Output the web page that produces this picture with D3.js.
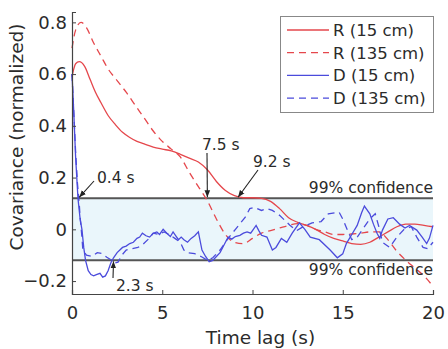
<!DOCTYPE html>
<html>
<head>
<meta charset="utf-8">
<script src="https://cdn.jsdelivr.net/npm/d3@7"></script>
<style>
  html, body { margin: 0; padding: 0; background: #fff; }
  svg { display: block; font-family: "DejaVu Sans", Verdana, sans-serif; }
</style>
</head>
<body>
<svg id="chart" width="448" height="349"></svg>
<script>
// Time lags (s) and normalized covariance for each series
const r15T = [0, 0.1, 0.2, 0.4, 0.7, 1.0, 1.3, 1.6, 2.0, 2.4, 2.8, 3.2, 3.6, 4.0, 4.5, 5.0, 5.5, 6.0, 6.5, 7.0, 7.5, 8.0, 8.5, 9.0, 9.5, 10.0, 10.5, 11.0, 11.5, 12.0, 12.5, 13.0, 13.5, 14.0, 14.5, 15.0, 15.5, 16.0, 16.5, 17.0, 17.5, 18.0, 18.5, 19.0, 19.5, 20];
const r15V = [0.59, 0.62, 0.64, 0.648, 0.63, 0.58, 0.53, 0.49, 0.44, 0.405, 0.375, 0.355, 0.34, 0.33, 0.318, 0.31, 0.303, 0.29, 0.275, 0.26, 0.23, 0.185, 0.15, 0.13, 0.122, 0.122, 0.12, 0.108, 0.08, 0.045, 0.027, 0.015, 0.0, -0.02, -0.035, -0.045, -0.055, -0.058, -0.05, -0.03, -0.01, 0.01, 0.02, 0.02, 0.015, 0.01];

const r135T = [0, 0.2, 0.5, 0.8, 1.2, 1.6, 2.0, 2.5, 3.0, 3.5, 4.0, 4.5, 5.0, 5.5, 6.0, 6.5, 7.0, 7.5, 8.0, 8.5, 9.0, 9.5, 10.0, 10.5, 11.0, 11.5, 12.0, 12.5, 13.0, 13.5, 14.0, 14.5, 15.0, 15.5, 16.0, 16.5, 17.0, 17.5, 18.0, 18.5, 19.0, 19.5, 20];
const r135V = [0.70, 0.77, 0.80, 0.78, 0.72, 0.67, 0.62, 0.575, 0.53, 0.48, 0.43, 0.38, 0.34, 0.31, 0.28, 0.22, 0.165, 0.11, 0.04, -0.02, -0.05, -0.055, -0.035, -0.015, -0.005, 0.005, 0.015, 0.022, 0.015, 0.0, -0.01, -0.02, -0.02, -0.018, -0.015, -0.01, -0.01, -0.04, -0.085, -0.12, -0.15, -0.18, -0.22];

const d15T = [0, 0.1, 0.2, 0.33, 0.45, 0.55, 0.65, 0.75, 0.9, 1.05, 1.2, 1.35, 1.55, 1.7, 1.85, 2.0, 2.15, 2.3, 2.5, 2.8, 3.0, 3.2, 3.4, 3.6, 3.75, 3.9, 4.1, 4.3, 4.5, 4.7, 4.85, 5.05, 5.25, 5.45, 5.6, 5.75, 5.9, 6.05, 6.2, 6.4, 6.6, 6.8, 7.0, 7.2, 7.4, 7.6, 7.8, 8.0, 8.2, 8.35, 8.5, 8.65, 8.85, 9.05, 9.3, 9.5, 9.7, 9.9, 10.2, 10.35, 10.5, 10.8, 11.1, 11.3, 11.6, 11.9, 12.2, 12.6, 12.9, 13.2, 13.7, 14.3, 14.7, 15.0, 15.2, 15.5, 15.8, 16.05, 16.2, 16.5, 16.7, 16.9, 17.05, 17.2, 17.5, 17.8, 18.15, 18.45, 18.7, 19.1, 19.4, 19.65, 19.8, 20];
const d15V = [0.6, 0.45, 0.28, 0.12, 0.04, 0.0, -0.07, -0.12, -0.16, -0.175, -0.18, -0.175, -0.17, -0.185, -0.18, -0.16, -0.13, -0.11, -0.09, -0.07, -0.065, -0.055, -0.05, -0.035, -0.03, -0.015, -0.025, -0.03, -0.015, -0.01, -0.02, 0.0, -0.015, -0.028, -0.01, -0.025, -0.04, -0.03, -0.04, -0.05, -0.035, -0.025, -0.01, -0.08, -0.105, -0.125, -0.12, -0.105, -0.09, -0.07, -0.05, -0.03, -0.038, -0.028, -0.023, -0.015, -0.01, -0.015, 0.015, -0.005, -0.023, -0.03, -0.08, -0.07, -0.035, -0.05, -0.015, 0.025, 0.0, -0.03, -0.04, -0.08, -0.11, -0.095, -0.055, -0.02, 0.015, 0.065, 0.09, 0.06, 0.02, -0.015, -0.035, -0.003, 0.04, 0.045, 0.02, 0.005, 0.015, -0.003, -0.03, -0.055, -0.035, 0.015];

const d135T = [0, 0.1, 0.2, 0.3, 0.4, 0.45, 0.55, 0.6, 0.8, 1.1, 1.4, 1.65, 1.93, 2.2, 2.4, 2.55, 2.76, 3.0, 3.3, 3.65, 3.9, 4.2, 4.5, 4.8, 5.1, 5.4, 5.7, 6.0, 6.2, 6.35, 6.8, 7.2, 7.5, 7.8, 8.2, 8.65, 9.1, 9.6, 9.85, 10.1, 10.5, 10.8, 11.1, 11.5, 12.07, 12.45, 12.8, 13.3, 13.8, 14.2, 14.8, 15.0, 15.3, 15.5, 15.8, 16.1, 16.5, 16.8, 17.0, 17.2, 17.6, 18.0, 18.4, 18.8, 19.1, 19.45, 19.7, 20];
const d135V = [0.6, 0.45, 0.3, 0.18, 0.1, 0.047, -0.03, -0.08, -0.1, -0.105, -0.09, -0.093, -0.108, -0.12, -0.13, -0.127, -0.1, -0.08, -0.075, -0.07, -0.06, -0.04, -0.015, -0.02, -0.01, -0.02, -0.035, -0.05, -0.08, -0.09, -0.094, -0.107, -0.12, -0.11, -0.08, -0.035, 0.004, 0.047, 0.08, 0.085, 0.073, 0.08, 0.073, 0.054, 0.016, -0.005, 0.01, 0.025, 0.03, 0.06, 0.066, 0.04, -0.01, -0.04, -0.03, 0.0, 0.04, 0.06, 0.01, -0.05, -0.07, -0.03, 0.0, 0.01, -0.03, -0.07, -0.075, -0.05];

const xTicks = [0, 5, 10, 15, 20];
const yTicks = [-0.2, 0, 0.2, 0.4, 0.6, 0.8];
const confidence = 0.12;
const seriesNames = ["R (15 cm)", "R (135 cm)", "D (15 cm)", "D (135 cm)"];
// Annotated lag times (s) where curves leave the confidence band
const markTimes = [0.4, 2.3, 7.5, 9.2];

const RED = "#e5474c", BLUE = "#4b4bdc", TXT = "#2b2b2b";

const svg = d3.select("#chart");
const x = d3.scaleLinear().domain([0, 20]).range([72, 433]);
const y = d3.scaleLinear().domain([-0.25, 0.84]).range([294, 12]);

const zip = (ts, vs) => ts.map((t, i) => [t, vs[i]]);
const series = [
  { name: seriesNames[0], data: zip(r15T, r15V), color: RED, dash: null, curve: d3.curveMonotoneX },
  { name: seriesNames[1], data: zip(r135T, r135V), color: RED, dash: "7,5", curve: d3.curveMonotoneX },
  { name: seriesNames[2], data: zip(d15T, d15V), color: BLUE, dash: null, curve: d3.curveLinear },
  { name: seriesNames[3], data: zip(d135T, d135V), color: BLUE, dash: "7,5", curve: d3.curveLinear }
];

// Confidence band
svg.append("rect")
  .attr("x", x(0)).attr("width", x(20) - x(0))
  .attr("y", y(confidence)).attr("height", y(-confidence) - y(confidence))
  .attr("fill", "#eaf6fb");
[confidence, -confidence].forEach(c => {
  svg.append("line")
    .attr("x1", x(0)).attr("x2", x(20))
    .attr("y1", y(c)).attr("y2", y(c))
    .attr("stroke", "#555").attr("stroke-width", 2);
});

// Curves
series.forEach(s => {
  svg.append("path")
    .datum(s.data)
    .attr("fill", "none")
    .attr("stroke", s.color)
    .attr("stroke-width", 1.3)
    .attr("stroke-dasharray", s.dash)
    .attr("d", d3.line().x(d => x(d[0])).y(d => y(d[1])).curve(s.curve));
});

// Axes
const xAxis = d3.axisBottom(x).tickValues(xTicks).tickSize(-4).tickPadding(12).tickFormat(d3.format("d"));
const gx = svg.append("g").attr("transform", `translate(0,${y(-0.25)})`).call(xAxis);
const yAxis = d3.axisLeft(y).tickValues(yTicks).tickSize(-4).tickPadding(5).tickFormat(d => d === 0 ? "0" : d3.format(".1f")(d));
const gy = svg.append("g").attr("transform", `translate(${x(0)},0)`).call(yAxis);
[gx, gy].forEach(g => {
  g.select(".domain").attr("stroke", "#444").attr("stroke-width", 1.2);
  g.selectAll(".tick line").attr("stroke", "#444");
  g.selectAll("text").attr("fill", TXT).attr("font-size", 18).attr("font-family", "DejaVu Sans, sans-serif");
});

svg.append("text")
  .attr("x", (x(0) + x(20)) / 2 + 8).attr("y", 344)
  .attr("text-anchor", "middle").attr("font-size", 18.5).attr("fill", TXT)
  .text("Time lag (s)");
svg.append("text")
  .attr("transform", `translate(23,${137}) rotate(-90)`)
  .attr("text-anchor", "middle").attr("font-size", 18.5).attr("fill", TXT)
  .text("Covariance (normalized)");

// Confidence labels
svg.append("text").attr("x", x(20)).attr("y", y(confidence) - 5)
  .attr("text-anchor", "end").attr("font-size", 15.5).attr("fill", TXT).text("99% confidence");
svg.append("text").attr("x", x(20)).attr("y", y(-confidence) + 15)
  .attr("text-anchor", "end").attr("font-size", 15.5).attr("fill", TXT).text("99% confidence");

// Arrow annotations
const defs = svg.append("defs");
defs.append("marker").attr("id", "head")
  .attr("viewBox", "0 0 10 10").attr("refX", 10).attr("refY", 5)
  .attr("markerWidth", 7).attr("markerHeight", 7).attr("orient", "auto")
  .attr("markerUnits", "userSpaceOnUse")
  .append("path").attr("d", "M0,1 L10,5 L0,9 Z").attr("fill", "#222");

const notes = [
  { t: markTimes[0], v: confidence, from: [94, 181], label: [97, 183] },
  { t: markTimes[1], v: -confidence, from: [113, 278], label: [116, 291] },
  { t: markTimes[2], v: confidence, from: [207, 153], label: [202, 150] },
  { t: markTimes[3], v: confidence, from: [258, 170], label: [253, 167] }
];
notes.forEach(n => {
  svg.append("line")
    .attr("x1", n.from[0]).attr("y1", n.from[1])
    .attr("x2", x(n.t)).attr("y2", y(n.v) + (n.v > 0 ? -1 : 1))
    .attr("stroke", "#222").attr("stroke-width", 1.1)
    .attr("marker-end", "url(#head)");
  svg.append("text").attr("x", n.label[0]).attr("y", n.label[1])
    .attr("font-size", 15.5).attr("fill", TXT).text(`${n.t} s`);
});

// Legend
const lg = svg.append("g");
lg.append("rect").attr("x", 280.5).attr("y", 16.5).attr("width", 153).attr("height", 96)
  .attr("fill", "#fff").attr("stroke", "#888").attr("stroke-width", 1);
series.forEach((s, i) => {
  const yy = 30 + i * 22.7;
  lg.append("line").attr("x1", 287).attr("x2", 329).attr("y1", yy).attr("y2", yy)
    .attr("stroke", s.color).attr("stroke-width", 1.3).attr("stroke-dasharray", s.dash);
  lg.append("text").attr("x", 333).attr("y", yy + 6)
    .attr("font-size", 16.5).attr("fill", TXT).text(s.name);
});
</script>
</body>
</html>
